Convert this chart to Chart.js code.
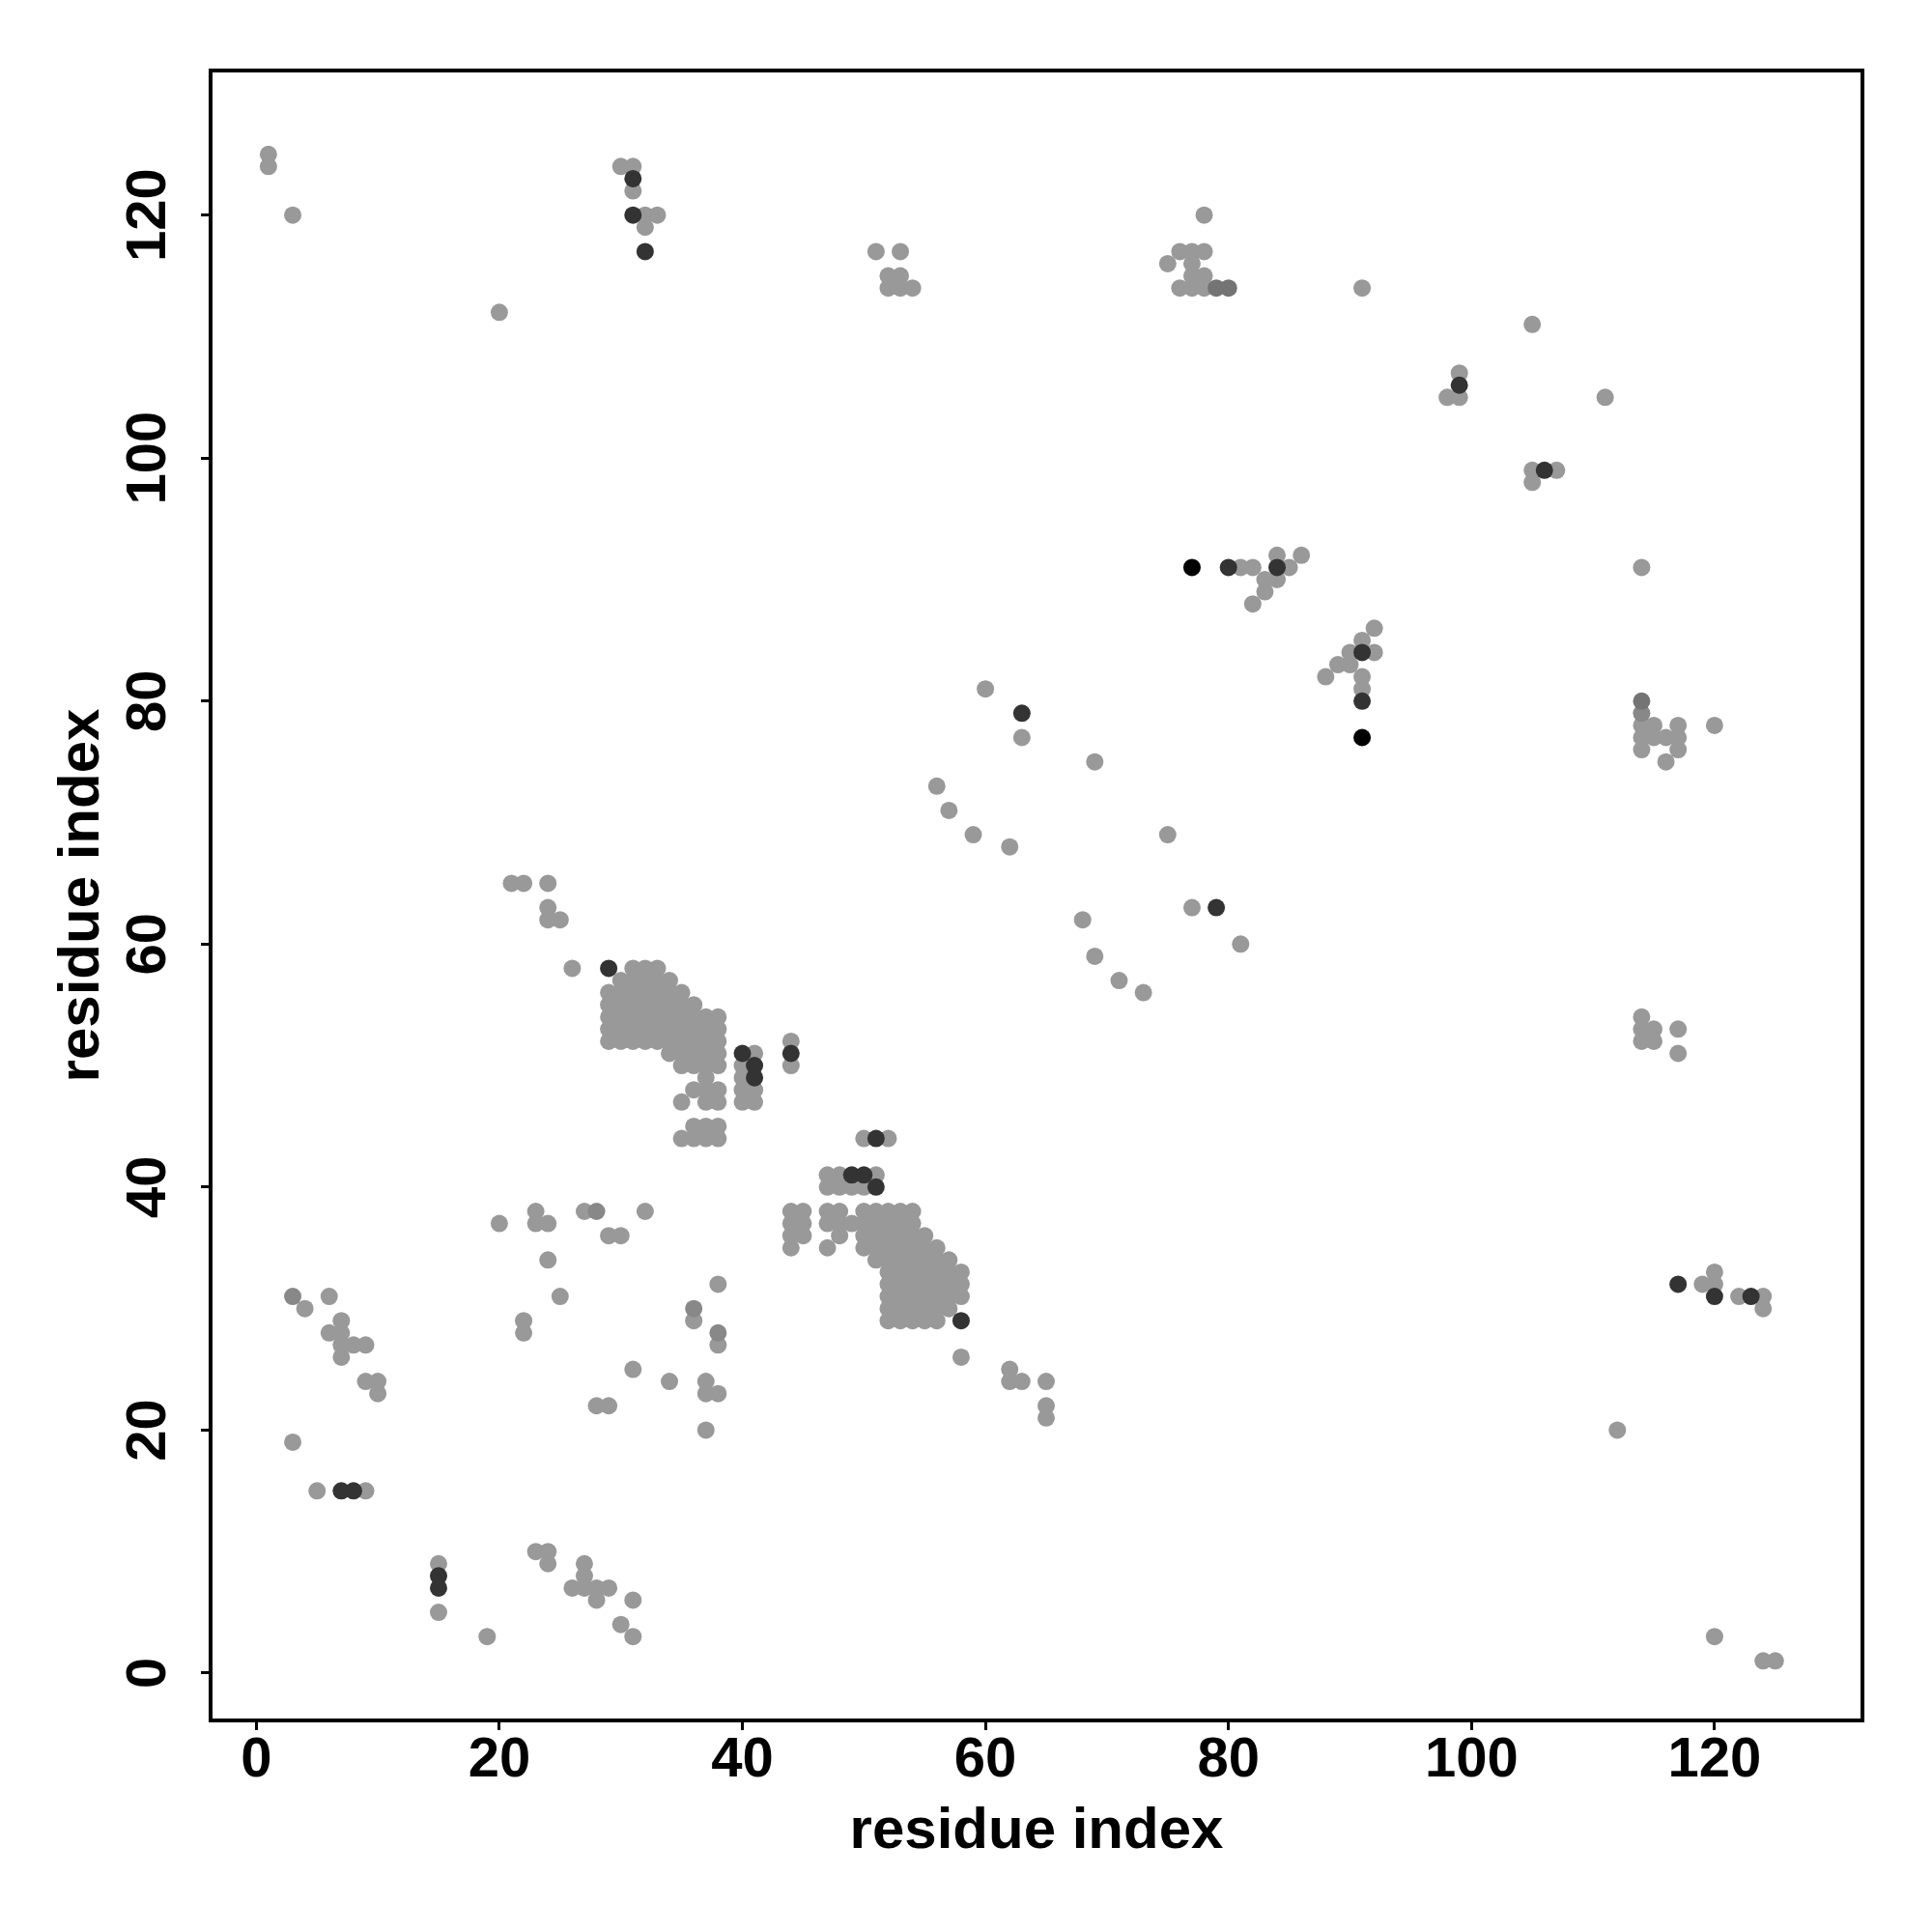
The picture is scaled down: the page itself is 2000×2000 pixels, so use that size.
<!DOCTYPE html>
<html>
<head>
<meta charset="utf-8">
<title>residue contact map</title>
<script src="https://cdn.jsdelivr.net/npm/chart.js"></script>
<style>
  html, body { margin: 0; padding: 0; background: #fff; }
  canvas { display: block; }
</style>
</head>
<body>
<canvas id="contactMap" width="2000" height="2000"></canvas>
<script>
// tick labels on both axes
const xTicks = [0, 20, 40, 60, 80, 100, 120];
const yTicks = [0, 20, 40, 60, 80, 100, 120];
const axisTitle = 'residue index';

// light grey contacts, [x, y] residue pairs
const lightUpper = [
  [1,125],[1,124],[3,120],[20,112],[30,124],[31,124],[31,122],[32,120],[33,120],[32,119],
  [51,117],[53,117],[52,115],[53,115],[52,114],[53,114],[54,114],
  [78,120],[76,117],[77,117],[78,117],[75,116],[77,116],[77,115],[78,115],[76,114],[77,114],[78,114],
  [81,91],[82,91],[84,92],[86,92],[85,91],[83,90],[84,90],[83,89],[82,88],
  [91,114],[105,111],[99,107],[98,105],[99,105],[111,105],[105,99],[107,99],[105,98],[114,91]
];
const lightRight = [
  [92,86],[91,85],[90,84],[92,84],[89,83],[90,83],[88,82],[91,82],[91,81],
  [114,78],[115,78],[117,78],[120,78],[114,77],[115,77],[116,77],[117,77],[114,76],[117,76],[116,75],
  [114,54],[114,53],[115,53],[117,53],[114,52],[115,52],[117,51],
  [120,33],[119,32],[120,32],[122,31],[124,31],[124,30],[112,20],[120,3],[124,1],[125,1]
];
const lightMiddle = [
  [60,81],[63,77],[69,75],[56,73],[57,71],[59,69],[62,68],[75,69],[77,63],[68,62],
  [81,60],[69,59],[71,57],[73,56],[44,52],[44,50],[50,44],[52,44],
  [21,65],[22,65],[24,65],[24,63],[24,62],[25,62],[26,58],
  [58,26],[62,25],[62,24],[63,24],[65,24],[65,22],[65,21]
];
const lightBlockA = [
  [31,58],[32,58],[33,58],
  [30,57],[31,57],[32,57],[33,57],[34,57],
  [29,56],[30,56],[31,56],[32,56],[33,56],[34,56],[35,56],
  [29,55],[30,55],[31,55],[32,55],[33,55],[34,55],[35,55],[36,55],
  [29,54],[30,54],[31,54],[32,54],[33,54],[34,54],[35,54],[36,54],[37,54],[38,54],
  [29,53],[30,53],[31,53],[32,53],[33,53],[34,53],[35,53],[36,53],[37,53],[38,53],
  [29,52],[30,52],[31,52],[32,52],[33,52],[34,52],[35,52],[36,52],[37,52],[38,52],
  [34,51],[35,51],[36,51],[37,51],[38,51],[41,51],
  [35,50],[36,50],[37,50],[38,50],[40,50],
  [37,49],[40,49],
  [36,48],[37,48],[38,48],[40,48],[41,48],
  [35,47],[37,47],[38,47],[40,47],[41,47],
  [36,45],[37,45],[38,45],
  [35,44],[36,44],[37,44],[38,44]
];
const lightBlockB = [
  [47,41],[48,41],[51,41],
  [47,40],[48,40],[49,40],[50,40],
  [44,38],[45,38],[47,38],[48,38],[50,38],[51,38],[52,38],[53,38],[54,38],
  [44,37],[45,37],[47,37],[48,37],[49,37],[50,37],[51,37],[52,37],[53,37],[54,37],
  [44,36],[45,36],[48,36],[50,36],[51,36],[52,36],[53,36],[54,36],[55,36],
  [44,35],[47,35],[50,35],[51,35],[52,35],[53,35],[54,35],[55,35],[56,35],
  [51,34],[52,34],[53,34],[54,34],[55,34],[56,34],[57,34],
  [52,33],[53,33],[54,33],[55,33],[56,33],[57,33],[58,33],
  [52,32],[53,32],[54,32],[55,32],[56,32],[57,32],[58,32],
  [52,31],[53,31],[54,31],[55,31],[56,31],[57,31],[58,31],
  [52,30],[53,30],[54,30],[55,30],[56,30],[57,30],
  [52,29],[53,29],[54,29],[55,29],[56,29]
];
const lightLower = [
  [6,31],[4,30],[7,29],[6,28],[7,28],[7,27],[8,27],[9,27],[7,26],[9,24],[10,24],[10,23],
  [3,19],[5,15],[9,15],[15,9],[15,5],[19,3],
  [20,37],[23,38],[23,37],[24,37],[24,34],[27,38],[32,38],[29,36],[30,36],[25,31],[22,29],[22,28],
  [38,32],[36,29],[38,27],[31,25],[34,24],[37,24],[37,23],[38,23],[28,22],[29,22],[37,20],
  [23,10],[24,10],[24,9],[27,9],[27,8],[26,7],[27,7],[28,7],[29,7],[28,6],[31,6],[30,4],[31,3]
];

// slightly darker greys
const midPts = [[3,31],[28,38],[36,30],[38,28],[114,79]];
const midDarkPts = [[79,114],[80,114],[114,80]];

// dark and black contacts
const darkPts = [
  [31,123],[31,120],[32,117],[80,91],[84,91],[99,106],[106,99],[91,84],[91,80],
  [63,79],[79,63],[44,51],[51,44],[29,58],[40,51],[41,50],[41,49],[49,41],[50,41],
  [51,40],[58,29],[7,15],[8,15],[15,8],[15,7],[117,32],[120,31],[123,31]
];
const blackPts = [[77,91],[91,77]];

const FONT = '"Liberation Sans", Arial, Helvetica, sans-serif';
const toXY = pts => pts.map(p => ({ x: p[0], y: p[1] }));

const lightPts = [].concat(lightUpper, lightRight, lightMiddle, lightBlockA, lightBlockB, lightLower);

// box, tick labels and axis titles in the R style
const framePlugin = {
  id: 'frame',
  afterDraw(chart) {
    const { ctx, chartArea: a, scales: { x, y } } = chart;
    ctx.save();
    ctx.strokeStyle = '#000';
    ctx.lineWidth = 4;
    ctx.strokeRect(a.left, a.top, a.right - a.left, a.bottom - a.top);

    ctx.fillStyle = '#000';
    ctx.textAlign = 'center';
    ctx.textBaseline = 'alphabetic';
    ctx.font = 'bold 58px ' + FONT;
    xTicks.forEach(v => ctx.fillText(String(v), x.getPixelForValue(v), a.bottom + 58));
    yTicks.forEach(v => {
      ctx.save();
      ctx.translate(a.left - 47, y.getPixelForValue(v));
      ctx.rotate(-Math.PI / 2);
      ctx.fillText(String(v), 0, 0);
      ctx.restore();
    });

    ctx.font = 'bold 60px ' + FONT;
    ctx.fillText(axisTitle, (a.left + a.right) / 2, a.bottom + 132);
    ctx.translate(a.left - 116, (a.top + a.bottom) / 2);
    ctx.rotate(-Math.PI / 2);
    ctx.fillText(axisTitle, 0, 0);
    ctx.restore();
  }
};

const tickGrid = { drawOnChartArea: false, drawTicks: true, tickLength: 10, color: '#000', lineWidth: 3 };

new Chart(document.getElementById('contactMap'), {
  type: 'scatter',
  data: {
    datasets: [
      { label: 'light', data: toXY(lightPts), backgroundColor: '#999999', order: 5 },
      { label: 'mid', data: toXY(midPts), backgroundColor: '#888888', order: 4 },
      { label: 'mid dark', data: toXY(midDarkPts), backgroundColor: '#747474', order: 3 },
      { label: 'dark', data: toXY(darkPts), backgroundColor: '#333333', order: 2 },
      { label: 'black', data: toXY(blackPts), backgroundColor: '#000000', order: 1 }
    ]
  },
  options: {
    responsive: false,
    animation: false,
    events: [],
    layout: { padding: { top: 73, right: 72, left: 0, bottom: 0 } },
    elements: { point: { radius: 9, hoverRadius: 9, borderWidth: 0 } },
    plugins: { legend: { display: false }, tooltip: { enabled: false } },
    scales: {
      x: {
        type: 'linear',
        min: -3.76,
        max: 132.17,
        afterBuildTicks: s => { s.ticks = xTicks.map(v => ({ value: v })); },
        afterFit: s => { s.height = 219; },
        grid: tickGrid,
        border: { display: false },
        ticks: { display: false }
      },
      y: {
        type: 'linear',
        min: -3.9,
        max: 131.9,
        afterBuildTicks: s => { s.ticks = yTicks.map(v => ({ value: v })); },
        afterFit: s => { s.width = 218; },
        grid: tickGrid,
        border: { display: false },
        ticks: { display: false }
      }
    }
  },
  plugins: [framePlugin]
});
</script>
</body>
</html>
